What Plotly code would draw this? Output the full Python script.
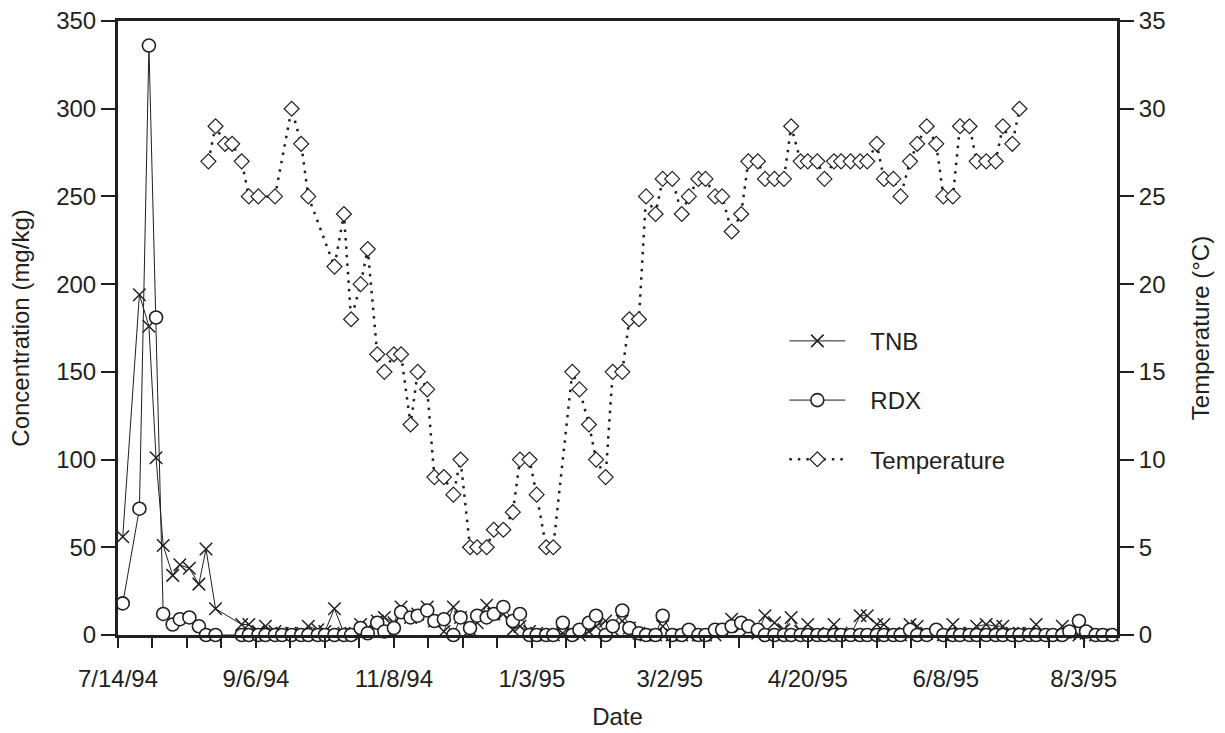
import pandas as pd
import plotly.graph_objects as go

START = pd.Timestamp("1994-07-14")

# Sampling days (days after 7/14/94) for the concentration series
conc_days = [2, 9, 13, 16, 19, 23, 26, 30, 34, 37, 41,
             52, 55, 59, 62, 66, 69, 73, 77, 80, 84,
             87, 91, 95, 98, 102, 105, 109, 112, 116, 119,
             123, 126, 130, 133, 137, 141, 144, 148, 151, 155,
             158, 162, 166, 169, 173, 176, 180, 183, 187, 191,
             194, 198, 201, 205, 208, 212, 215, 219, 222, 226,
             229, 233, 237, 240, 244, 247, 251, 254, 258, 262,
             265, 269, 272, 276, 280, 283, 287, 290, 294, 297,
             301, 304, 308, 312, 315, 319, 322, 326, 329, 333,
             336, 340, 344, 347, 351, 354, 358, 361, 365, 369,
             372, 376, 379, 383, 386, 390, 393, 397, 400, 404,
             407, 411, 414, 418]

tnb = [56, 194, 176, 101, 51, 34, 40, 38, 29, 49, 15,
       6, 6, 2, 5, 2, 1, 1, 1, 5, 3,
       2, 15, 1, 1, 6, 4, 8, 10, 7, 16,
       10, 12, 16, 8, 2, 16, 10, 3, 7, 17,
       12, 12, 3, 5, 2, 1, 0, 0, 1, 1,
       0, 2, 5, 8, 3, 8, 4, 1, 0, 0,
       5, 0, 0, 0, 0, 0, 0, 3, 9, 5,
       3, 1, 11, 7, 3, 10, 2, 6, 1, 0,
       6, 1, 0, 11, 11, 6, 6, 1, 0, 6,
       5, 1, 1, 0, 6, 1, 1, 5, 6, 5,
       5, 1, 1, 1, 6, 0, 0, 5, 1, 0,
       1, 0, 0, 0]

rdx = [18, 72, 336, 181, 12, 6, 9, 10, 5, 0, 0,
       0, 0, 0, 0, 0, 0, 0, 0, 0, 0,
       0, 0, 0, 0, 4, 1, 7, 2, 4, 13,
       10, 11, 14, 8, 9, 0, 10, 4, 11, 10,
       12, 16, 8, 12, 0, 0, 0, 0, 7, 0,
       3, 7, 11, 0, 5, 14, 4, 1, 0, 0,
       11, 0, 0, 3, 0, 0, 3, 3, 5, 7,
       5, 3, 0, 0, 0, 0, 0, 0, 0, 0,
       0, 0, 0, 0, 0, 0, 0, 0, 0, 3,
       0, 0, 3, 0, 0, 0, 0, 0, 0, 0,
       0, 0, 0, 0, 0, 0, 0, 0, 2, 8,
       2, 0, 0, 0]

temp_days = [38, 41, 45, 48, 52, 55, 59, 66, 73, 77,
             80, 91, 95, 98, 102, 105, 109, 112, 116, 119,
             123, 126, 130, 133, 137, 141, 144, 148, 151, 155,
             158, 162, 166, 169, 173, 176, 180, 183, 191, 194,
             198, 201, 205, 208, 212, 215, 219, 222, 226, 229,
             233, 237, 240, 244, 247, 251, 254, 258, 262, 265,
             269, 272, 276, 280, 283, 287, 290, 294, 297, 301,
             304, 308, 312, 315, 319, 322, 326, 329, 333, 336,
             340, 344, 347, 351, 354, 358, 361, 365, 369, 372,
             376, 379]

temperature = [27, 29, 28, 28, 27, 25, 25, 25, 30, 28,
               25, 21, 24, 18, 20, 22, 16, 15, 16, 16,
               12, 15, 14, 9, 9, 8, 10, 5, 5, 5,
               6, 6, 7, 10, 10, 8, 5, 5, 15, 14,
               12, 10, 9, 15, 15, 18, 18, 25, 24, 26,
               26, 24, 25, 26, 26, 25, 25, 23, 24, 27,
               27, 26, 26, 26, 29, 27, 27, 27, 26, 27,
               27, 27, 27, 27, 28, 26, 26, 25, 27, 28,
               29, 28, 25, 25, 29, 29, 27, 27, 27, 29,
               28, 30]

tick_labels = ["7/14/94", "9/6/94", "11/8/94", "1/3/95",
               "3/2/95", "4/20/95", "6/8/95", "8/3/95"]

conc_dates = [START + pd.Timedelta(days=d) for d in conc_days]
temp_dates = [START + pd.Timedelta(days=d) for d in temp_days]
tick_dates = [START + pd.Timedelta(days=58 * i) for i in range(len(tick_labels))]
x_end = START + pd.Timedelta(days=420)

INK = "#231f20"
FONT = "Liberation Sans, Arial, Helvetica, sans-serif"
PAD = "\u00a0\u00a0\u00a0"

fig = go.Figure()

fig.add_trace(go.Scatter(
    x=conc_dates, y=tnb, name=PAD + "TNB", mode="lines+markers",
    legendgroup="a", cliponaxis=False,
    line=dict(color=INK, width=1),
    marker=dict(symbol="x-thin", size=12.5, line=dict(color=INK, width=1.5)),
))
fig.add_trace(go.Scatter(
    x=conc_dates, y=rdx, name=PAD + "RDX", mode="lines+markers",
    legendgroup="b", cliponaxis=False,
    line=dict(color=INK, width=1),
    marker=dict(symbol="circle", size=13, color="white",
                line=dict(color=INK, width=1.6)),
))
fig.add_trace(go.Scatter(
    x=temp_dates, y=temperature, name=PAD + "Temperature", mode="lines+markers",
    legendgroup="c", yaxis="y2", cliponaxis=False,
    line=dict(color=INK, width=2.5, dash="2.5px,6px"),
    marker=dict(symbol="diamond", size=11.5, color="white",
                line=dict(color=INK, width=1.2)),
))

axis_common = dict(
    showline=True, linecolor=INK, linewidth=3,
    ticks="outside", ticklen=14, tickwidth=2, tickcolor=INK,
    showgrid=False, zeroline=False, automargin=False,
    tickfont=dict(family=FONT, size=24, color=INK),
)

fig.update_layout(
    width=1225, height=733,
    margin=dict(l=118, r=108, t=21, b=98),
    paper_bgcolor="white", plot_bgcolor="white",
    font=dict(family=FONT, size=24, color=INK),
    showlegend=True,
    legend=dict(
        x=0.667, y=0.515, xanchor="left", yanchor="top",
        bgcolor="rgba(0,0,0,0)", borderwidth=0,
        traceorder="grouped", tracegroupgap=25,
        itemwidth=56,
        font=dict(family=FONT, size=24, color=INK),
    ),
    xaxis=dict(
        type="date",
        range=[START, x_end],
        tickmode="array", tickvals=tick_dates, ticktext=tick_labels,
        showline=True, linecolor=INK, linewidth=3, mirror=True,
        ticks="outside", ticklen=10, tickwidth=2, tickcolor=INK,
        ticklabelstandoff=10, automargin=False,
        showgrid=False, zeroline=False,
        tickfont=dict(family=FONT, size=24, color=INK),
        minor=dict(ticks="outside", ticklen=10, tickwidth=2, tickcolor=INK,
                   dtick=14.5 * 86400000, tick0=START, showgrid=False),
        title=dict(text="Date", standoff=18,
                   font=dict(family=FONT, size=24, color=INK)),
    ),
    yaxis=dict(
        range=[0, 350], dtick=50,
        title=dict(text="Concentration (mg/kg)", standoff=20,
                   font=dict(family=FONT, size=24, color=INK)),
        **axis_common,
    ),
    yaxis2=dict(
        range=[0, 35], dtick=5, overlaying="y", side="right",
        title=dict(text="Temperature (°C)", standoff=28,
                   font=dict(family=FONT, size=24, color=INK)),
        **axis_common,
    ),
)

fig.write_html("out.html")
